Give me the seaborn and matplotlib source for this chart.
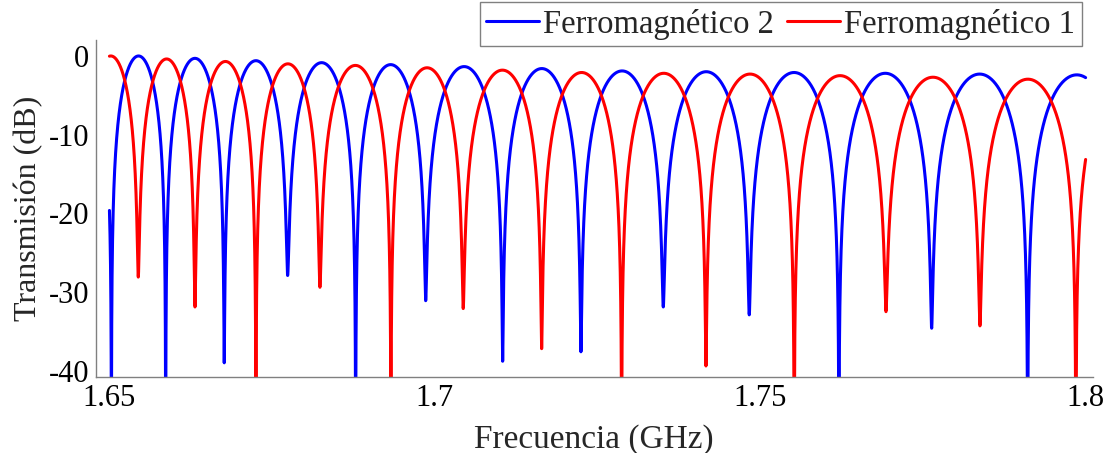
import numpy as np
import pandas as pd
import matplotlib
matplotlib.use("Agg")
import matplotlib.pyplot as plt
import seaborn as sns

# ---- data (frequency in GHz, levels in dB) ----
# Dip (notch) frequencies of each series, incl. one just outside each end of the range
blue_dip_freq = [1.64178, 1.65030, 1.65864, 1.66764, 1.67738, 1.68783, 1.69859,
                 1.71042, 1.72245, 1.73510, 1.74831, 1.76209, 1.77634, 1.79109, 1.80619]
# Depth of each dip (values deeper than the axis limit read as -50)
blue_dip_db = [-50, -50, -50, -39.0, -27.9, -50, -31.1,
               -38.8, -37.6, -31.9, -32.9, -50, -34.6, -50, -50]
# Peak level of each arch between consecutive dips
blue_peak_db = [-0.5, 0.0, -0.3, -0.6, -0.85, -1.1, -1.35,
                -1.6, -1.9, -2.0, -2.1, -2.2, -2.3, -2.4]

red_dip_freq = [1.64600, 1.65443, 1.66314, 1.67251, 1.68234, 1.69325, 1.70436,
                1.71641, 1.72870, 1.74166, 1.75522, 1.76932, 1.78376, 1.79850, 1.81342]
red_dip_db = [-50, -28.1, -31.9, -50, -29.4, -50, -32.1,
              -37.2, -50, -39.4, -50, -32.5, -34.3, -50, -50]
red_peak_db = [0.0, -0.38, -0.7, -1.0, -1.2, -1.5, -1.8,
               -2.1, -2.2, -2.3, -2.5, -2.7, -2.95, -3.0]

series_names = ["Ferromagnético 2", "Ferromagnético 1"]
series_colors = ["#0000ff", "#ff0000"]
x_ticks = [1.65, 1.7, 1.75, 1.8]
x_ticklabels = ["1.65", "1.7", "1.75", "1.8"]
y_ticks = [0, -10, -20, -30, -40]
y_ticklabels = ["0", "-10", "-20", "-30", "-40"]
f_min, f_max = 1.65, 1.80


def trace(dip_f, dip_db, peak_db, n=600):
    """Connect the read-off dips and peaks with Fabry-Perot-like arches."""
    fs, vs = [], []
    for k in range(len(peak_db)):
        f0, f1 = dip_f[k], dip_f[k + 1]
        e0, e1 = 10 ** (dip_db[k] / 10), 10 ** (dip_db[k + 1] / 10)
        p = 10 ** (peak_db[k] / 10)
        t = np.linspace(0, np.pi, n)
        u = (1 - np.cos(t)) / 2
        phi = np.pi * u
        eps = e0 * (1 - u) + e1 * u
        val = p * np.sin(phi) ** 2 + eps * np.cos(phi) ** 2
        f = f0 + u * (f1 - f0)
        if k > 0:
            f, val = f[1:], val[1:]
        fs.append(f)
        vs.append(10 * np.log10(val))
    f = np.concatenate(fs)
    v = np.concatenate(vs)
    m = (f >= f_min) & (f <= f_max)
    fe = np.array([f_min, f_max])
    ve = np.interp(fe, f, v)
    f = np.concatenate([[fe[0]], f[m], [fe[1]]])
    v = np.concatenate([[ve[0]], v[m], [ve[1]]])
    return f, v


fb, vb = trace(blue_dip_freq, blue_dip_db, blue_peak_db)
fr, vr = trace(red_dip_freq, red_dip_db, red_peak_db)
df = pd.concat([
    pd.DataFrame({"freq": fb, "db": vb, "serie": series_names[0]}),
    pd.DataFrame({"freq": fr, "db": vr, "serie": series_names[1]}),
], ignore_index=True)

sns.set_style("white")
plt.rcParams["font.family"] = ["Liberation Serif", "DejaVu Serif"]
plt.rcParams["axes.unicode_minus"] = False

fig = plt.figure(figsize=(11.12, 4.53), dpi=100)
ax = fig.add_axes([0.0863, 0.1678, 0.9826 - 0.0863, 0.9117 - 0.1678])

sns.lineplot(data=df, x="freq", y="db", hue="serie", hue_order=series_names,
             palette=dict(zip(series_names, series_colors)), estimator=None,
             sort=False, linewidth=2.2, ax=ax)

ax.set_xlim(1.64793, 1.80108)
ax.set_ylim(-40.8, 2.03)
ax.set_xticks(x_ticks)
ax.set_xticklabels(x_ticklabels)
ax.set_yticks(y_ticks)
ax.set_yticklabels(y_ticklabels)
ax.tick_params(direction="in", length=7, width=1, color="#808080",
               labelcolor="black", labelsize=22, pad=5)
for s in ["top", "right"]:
    ax.spines[s].set_visible(False)
for s in ["left", "bottom"]:
    ax.spines[s].set_color("#808080")
    ax.spines[s].set_linewidth(1.0)

ax.set_xlabel("Frecuencia (GHz)", fontsize=24, labelpad=8)
ax.set_ylabel("Transmisión (dB)", fontsize=23, labelpad=4)

handles, labels = ax.get_legend_handles_labels()
ax.legend(handles, labels, ncol=2, loc="upper right",
          bbox_to_anchor=(1082 / 1112, 1 - 2 / 453), bbox_transform=fig.transFigure,
          fontsize=23.5, frameon=True, fancybox=False, edgecolor="#808080",
          framealpha=1, borderaxespad=0, borderpad=0.2, handlelength=1.6,
          handletextpad=0.15, columnspacing=0.4, labelspacing=0.2)
ax.get_legend().get_frame().set_linewidth(1.0)

fig.savefig("out.png", dpi=100)
